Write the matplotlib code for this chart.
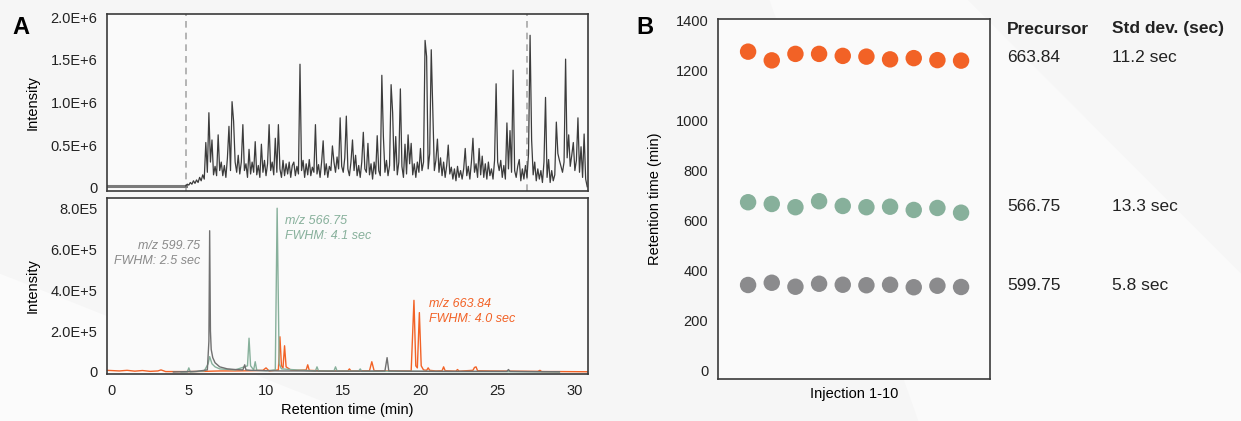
"""
Chromatogram (TIC + XIC) and retention time reproducibility
"""
import numpy as np
import matplotlib
matplotlib.use('Agg')
import matplotlib.pyplot as plt
import matplotlib.transforms as mtransforms
from matplotlib.patches import Polygon

plt.rcParams['font.family'] = ['Liberation Sans', 'DejaVu Sans']

# --- A, top: total ion chromatogram, 0.1 min steps from 4.8 min, intensity x1e6
tic_start = 4.8
tic_step = 0.1
tic_values = [
    0.02, 0.04, 0.03, 0.06, 0.04, 0.08, 0.05, 0.09, 0.06, 0.12,
    0.08, 0.15, 0.10, 0.53, 0.18, 0.88, 0.30, 0.56, 0.15, 0.25,
    0.14, 0.62, 0.20, 0.30, 0.14, 0.26, 0.12, 0.35, 0.72, 0.20,
    1.01, 0.78, 0.30, 0.18, 0.38, 0.16, 0.30, 0.74, 0.20, 0.28,
    0.12, 0.45, 0.16, 0.30, 0.18, 0.54, 0.15, 0.26, 0.12, 0.51,
    0.18, 0.32, 0.14, 0.28, 0.74, 0.20, 0.30, 0.15, 0.58, 0.18,
    0.74, 0.22, 0.12, 0.32, 0.14, 0.28, 0.16, 0.30, 0.12, 0.26,
    0.30, 0.14, 0.25, 0.16, 1.45, 0.20, 0.32, 0.12, 0.28, 0.15,
    0.33, 0.14, 0.24, 0.18, 0.74, 0.16, 0.27, 0.12, 0.30, 0.55,
    0.15, 0.28, 0.12, 0.25, 0.20, 0.49, 0.30, 0.18, 0.36, 0.22,
    0.82, 0.25, 0.18, 0.35, 0.84, 0.22, 0.14, 0.30, 0.56, 0.20,
    0.38, 0.14, 0.26, 0.12, 0.30, 0.65, 0.22, 0.18, 0.52, 0.15,
    0.28, 0.10, 0.30, 0.16, 0.61, 0.20, 0.14, 1.32, 0.60, 0.18,
    0.32, 0.14, 0.26, 1.21, 0.88, 0.20, 0.60, 0.15, 0.30, 1.16,
    0.25, 0.12, 0.51, 0.16, 0.62, 0.28, 0.52, 0.15, 0.28, 0.12,
    0.30, 0.18, 0.46, 0.20, 0.30, 1.73, 1.54, 0.22, 0.40, 1.62,
    0.92, 0.20, 0.32, 0.57, 0.18, 0.35, 0.14, 0.30, 0.12, 0.26,
    0.50, 0.16, 0.24, 0.10, 0.22, 0.08, 0.25, 0.12, 0.20, 0.10,
    0.22, 0.46, 0.14, 0.25, 0.10, 0.30, 0.58, 0.18, 0.28, 0.12,
    0.46, 0.15, 0.37, 0.12, 0.28, 0.10, 0.30, 0.14, 0.22, 0.10,
    0.32, 1.22, 0.30, 0.20, 0.32, 0.12, 0.26, 0.10, 0.76, 0.22,
    0.67, 0.18, 1.38, 0.20, 0.12, 0.25, 0.33, 0.08, 0.22, 0.10,
    0.26, 0.12, 0.40, 1.79, 0.56, 0.15, 0.30, 0.08, 0.22, 0.10,
    0.20, 0.06, 0.30, 1.06, 0.12, 0.33, 0.06, 0.20, 0.08, 0.15,
    0.77, 0.40, 0.32, 0.25, 0.18, 0.30, 1.51, 0.35, 0.62, 0.25,
    0.38, 0.53, 0.20, 0.32, 0.82, 0.18, 0.48, 0.12, 0.63, 0.10,
    0.01,
]
tic_pre_time = [-0.3, 4.8]
tic_pre_values = [0.02, 0.02]
gradient_marks = [4.8, 26.9]

# --- A, bottom: extracted ion chromatograms, intensity x1e5
xic_599_time = [4.0, 5.5, 6.2, 6.3, 6.35, 6.4, 6.45, 6.55, 6.7, 7.0,
                7.5, 8.0, 8.5, 8.62, 8.7, 9.0, 10.0, 11.0, 12.0, 14.0,
                16.0, 17.7, 17.84, 17.95, 19.0, 21.0, 23.0, 25.6, 25.7, 25.8,
                27.0, 29.0]
xic_599_values = [0.0, 0.03, 0.1, 1.5, 6.9, 2.0, 1.1, 0.7, 0.45, 0.25,
                  0.15, 0.12, 0.1, 0.35, 0.1, 0.08, 0.06, 0.05, 0.05, 0.04,
                  0.04, 0.05, 0.7, 0.05, 0.04, 0.03, 0.03, 0.03, 0.12, 0.03,
                  0.02, 0.01]
xic_566_time = [4.5, 4.9, 5.0, 5.1, 6.0, 6.25, 6.35, 6.5, 6.7, 7.0,
                8.0, 8.8, 8.9, 9.0, 9.2, 9.3, 9.4, 10.0, 10.6, 10.72,
                10.85, 11.0, 12.0, 13.2, 13.3, 13.4, 14.4, 14.5, 14.6, 15.5,
                16.0, 16.1, 16.2, 18.0, 20.0, 22.0, 24.0, 27.0, 29.0]
xic_566_values = [0.0, 0.0, 0.2, 0.0, 0.05, 0.4, 0.75, 0.4, 0.25, 0.15,
                  0.1, 0.3, 1.65, 0.3, 0.1, 0.5, 0.08, 0.06, 0.1, 8.0,
                  0.4, 0.15, 0.1, 0.05, 0.25, 0.05, 0.05, 0.25, 0.05, 0.04,
                  0.04, 0.15, 0.03, 0.03, 0.03, 0.02, 0.02, 0.01, 0.0]
xic_663_time = [-0.3, 0.5, 1.0, 1.5, 2.0, 2.5, 3.0, 3.2, 3.5, 4.0,
                5.0, 6.0, 7.0, 8.0, 9.0, 9.8, 10.0, 10.2, 10.8, 10.9,
                11.0, 11.1, 11.2, 11.3, 11.6, 12.0, 12.6, 12.7, 12.8, 13.5,
                14.0, 15.3, 15.4, 15.5, 16.7, 16.85, 17.0, 18.0, 19.4, 19.58,
                19.7, 19.8, 19.93, 20.05, 20.2, 20.4, 20.5, 20.6, 21.0, 21.4,
                21.5, 21.6, 22.3, 22.4, 22.5, 23.4, 23.5, 23.6, 23.7, 24.5,
                26.0, 27.6, 27.74, 27.85, 29.0, 30.8]
xic_663_values = [0.08, 0.05, 0.08, 0.04, 0.07, 0.03, 0.05, 0.1, 0.02, 0.02,
                  0.02, 0.03, 0.05, 0.05, 0.06, 0.08, 0.2, 0.05, 0.1, 1.72,
                  0.3, 0.2, 1.28, 0.25, 0.1, 0.08, 0.1, 0.35, 0.08, 0.06,
                  0.05, 0.05, 0.15, 0.05, 0.06, 0.5, 0.06, 0.05, 0.05, 3.5,
                  0.3, 0.2, 2.9, 0.3, 0.1, 0.08, 0.2, 0.08, 0.05, 0.06,
                  0.25, 0.06, 0.04, 0.12, 0.04, 0.08, 0.22, 0.25, 0.06, 0.05,
                  0.04, 0.03, 0.08, 0.02, 0.02, 0.01]

# --- B: retention time over 10 injections
injections = list(range(1, 11))
rt_663 = [1277, 1242, 1268, 1268, 1260, 1257, 1246, 1251, 1243, 1241]
rt_566 = [673, 666, 653, 677, 658, 653, 655, 642, 650, 631]
rt_599 = [341, 350, 334, 346, 342, 340, 342, 332, 338, 333]
precursors = ['663.84', '566.75', '599.75']
std_devs = ['11.2 sec', '13.3 sec', '5.8 sec']

ORANGE = '#f26226'
GREEN = '#87b09b'
GRAY_DOT = '#8b8b8d'
GRAY_LINE = '#707070'
GRAY_TXT = '#8a8a8a'
SPINE = '#3a3a3a'

fig = plt.figure(figsize=(12.41, 4.21), dpi=100, facecolor='#f6f6f6')

# soft background shapes
fig.patches.append(Polygon([[0.62, 1.0], [0.74, 0.0], [1.0, 0.0], [1.0, 0.35], [0.78, 1.0]],
                           closed=True, transform=fig.transFigure,
                           facecolor='#fafafa', edgecolor='none', zorder=-2))
fig.patches.append(Polygon([[0.0, 0.35], [0.30, 0.0], [0.0, 0.0]],
                           closed=True, transform=fig.transFigure,
                           facecolor='#fbfbfb', edgecolor='none', zorder=-2))

ax_tic = fig.add_axes([0.0862, 0.5463, 0.3876, 0.4204])
ax_xic = fig.add_axes([0.0862, 0.1116, 0.3876, 0.4181])
ax_rt = fig.add_axes([0.5786, 0.0998, 0.2191, 0.8551])

for ax in (ax_tic, ax_xic, ax_rt):
    ax.set_facecolor('#fafafa')
    for sp in ax.spines.values():
        sp.set_color(SPINE)
        sp.set_linewidth(1.2)
    ax.tick_params(length=0, labelsize=10.5, colors='#222222', pad=7)

# TIC
tic_time = tic_start + tic_step * np.arange(len(tic_values))
ax_tic.plot(tic_pre_time, np.array(tic_pre_values) * 1e6, color='#7a7a7a', lw=2.2)
ax_tic.plot(tic_time, np.array(tic_values) * 1e6, color='#3c3c3c', lw=0.9)
for xm in gradient_marks:
    ax_tic.axvline(xm, color='#a8a8a8', lw=1.2, ls=(0, (4, 3)), zorder=0)
ax_tic.set_xlim(-0.3, 30.85)
ax_tic.set_ylim(-0.04e6, 2.04e6)
ax_tic.set_yticks([0, 0.5e6, 1.0e6, 1.5e6, 2.0e6])
ax_tic.set_yticklabels(['0', '0.5E+6', '1.0E+6', '1.5E+6', '2.0E+6'])
ax_tic.set_xticks([])
ax_tic.set_ylabel('Intensity', fontsize=10.5, labelpad=8)

# XIC
ax_xic.plot(xic_663_time, np.array(xic_663_values) * 1e5, color=ORANGE, lw=1.0)
ax_xic.plot(xic_566_time, np.array(xic_566_values) * 1e5, color=GREEN, lw=1.0)
ax_xic.plot(xic_599_time, np.array(xic_599_values) * 1e5, color=GRAY_LINE, lw=1.0)
ax_xic.set_xlim(-0.3, 30.85)
ax_xic.set_ylim(-0.1e5, 8.5e5)
ax_xic.set_yticks([0, 2e5, 4e5, 6e5, 8e5])
ax_xic.set_yticklabels(['0', '2.0E+5', '4.0E+5', '6.0E+5', '8.0E5'])
ax_xic.set_xticks([0, 5, 10, 15, 20, 25, 30])
ax_xic.set_xlabel('Retention time (min)', fontsize=10.5, labelpad=4)
ax_xic.set_ylabel('Intensity', fontsize=10.5, labelpad=8)

ax_xic.text(5.75, 5.8e5, 'm/z 599.75\nFWHM: 2.5 sec', color=GRAY_TXT, style='italic',
            fontsize=9, ha='right', va='center', linespacing=1.3)
ax_xic.text(11.25, 7.0e5, 'm/z 566.75\nFWHM: 4.1 sec', color=GREEN, style='italic',
            fontsize=9, ha='left', va='center', linespacing=1.3)
ax_xic.text(20.55, 2.95e5, 'm/z 663.84\nFWHM: 4.0 sec', color=ORANGE, style='italic',
            fontsize=9, ha='left', va='center', linespacing=1.3)

# B: retention times
ax_rt.scatter(injections, rt_663, s=140, color=ORANGE, edgecolors='none')
ax_rt.scatter(injections, rt_566, s=140, color=GREEN, edgecolors='none')
ax_rt.scatter(injections, rt_599, s=140, color=GRAY_DOT, edgecolors='none')
ax_rt.set_xlim(-0.27, 11.22)
ax_rt.set_ylim(-36, 1408)
ax_rt.set_yticks(range(0, 1401, 200))
ax_rt.set_xticks([])
ax_rt.set_xlabel('Injection 1-10', fontsize=10.5, labelpad=6)
ax_rt.set_ylabel('Retention time (min)', fontsize=10.5, labelpad=10)

# table next to B
trans = mtransforms.blended_transform_factory(fig.transFigure, ax_rt.transData)
col_x = [1007 / 1241, 1112 / 1241]
fig.text(col_x[0], 1 - 29 / 421, 'Precursor', fontsize=12.5, fontweight='bold',
         ha='left', va='center', color='#222222')
fig.text(col_x[1], 1 - 29 / 421, 'Std dev. (sec)', fontsize=12.5, fontweight='bold',
         ha='left', va='center', color='#222222')
for series, prec, sd in zip((rt_663, rt_566, rt_599), precursors, std_devs):
    yrow = np.mean(series)
    ax_rt.text(col_x[0], yrow, prec, transform=trans, fontsize=12.5,
               ha='left', va='center', color='#222222')
    ax_rt.text(col_x[1], yrow, sd, transform=trans, fontsize=12.5,
               ha='left', va='center', color='#222222')

fig.text(12 / 1241, 1 - 28 / 421, 'A', fontsize=17, fontweight='bold', va='center')
fig.text(636 / 1241, 1 - 28 / 421, 'B', fontsize=17, fontweight='bold', va='center')

fig.savefig('out.png', dpi=100, facecolor=fig.get_facecolor())
